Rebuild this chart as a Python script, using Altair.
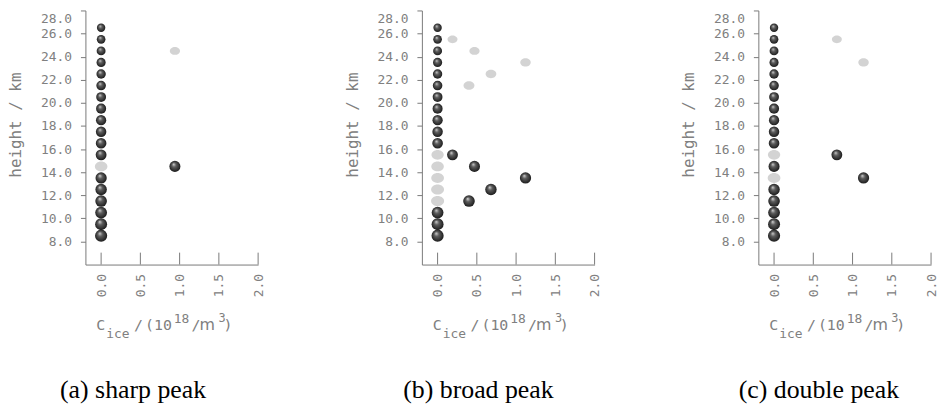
import altair as alt
import pandas as pd

# ---------------- data ----------------
heights = [8.5, 9.5, 10.5, 11.5, 12.5, 13.5, 14.5, 15.5, 16.5, 17.5,
           18.5, 19.5, 20.5, 21.5, 22.5, 23.5, 24.5, 25.5, 26.5]

sharp_dark_c = [0, 0, 0, 0, 0, 0, 0.94, 0, 0, 0, 0, 0, 0, 0, 0, 0, 0, 0, 0]
sharp_gray_h = [14.5, 24.5]
sharp_gray_c = [0.0, 0.94]

broad_dark_c = [0, 0, 0, 0.40, 0.68, 1.12, 0.47, 0.19, 0, 0, 0, 0, 0, 0, 0, 0, 0, 0, 0]
broad_gray_h = [11.5, 12.5, 13.5, 14.5, 15.5, 21.5, 22.5, 23.5, 24.5, 25.5]
broad_gray_c = [0.0, 0.0, 0.0, 0.0, 0.0, 0.40, 0.68, 1.12, 0.47, 0.19]

double_dark_c = [0, 0, 0, 0, 0, 1.14, 0, 0.80, 0, 0, 0, 0, 0, 0, 0, 0, 0, 0, 0]
double_gray_h = [13.5, 15.5, 23.5, 25.5]
double_gray_c = [0.0, 0.0, 1.14, 0.80]

captions = ["(a) sharp peak", "(b) broad peak", "(c) double peak"]
x_ticks = [0.0, 0.5, 1.0, 1.5, 2.0]
y_ticks = [8, 10, 12, 14, 16, 18, 20, 22, 24, 26, 28]

# ---------------- style ----------------
W, H = 174, 256
MONO = "DejaVu Sans Mono"
TXT = "#808080"
AXC = "#7a7a7a"
ELLIPSE = "M -1 0 A 1 0.78 0 1 0 1 0 A 1 0.78 0 1 0 -1 0 Z"
GRAD = alt.RadialGradient(
    gradient="radial",
    stops=[alt.GradientStop(color="#d8d8d8", offset=0),
           alt.GradientStop(color="#5e5e5e", offset=0.35),
           alt.GradientStop(color="#141414", offset=1)],
    x1=0.38, y1=0.3, r1=0, x2=0.5, y2=0.5, r2=0.55)

xs = alt.Scale(domain=[-0.2, 2.0], nice=False, zero=False)
ys = alt.Scale(domain=[6, 28], nice=False, zero=False)
xaxis = alt.Axis(values=x_ticks, format=".1f", labelAngle=270, ticks=False, grid=False,
                 title=None, labelFont=MONO, labelFontSize=13, labelColor=TXT,
                 labelPadding=9, domainColor=AXC)
yaxis = alt.Axis(values=y_ticks, format=".1f", tickSize=5, tickColor=AXC, grid=False,
                 title="height / km", titleFont=MONO, titleFontSize=16, titleColor=TXT,
                 titleFontWeight="normal", titleAngle=270, titleX=-70, titleY=115,
                 titleAlign="center", titleBaseline="middle",
                 labelFont=MONO, labelFontSize=13, labelColor=TXT, labelPadding=9,
                 labelOffset={"condition": {"test": "datum.value >= 28", "value": 8}, "value": 0},
                 domainColor=AXC)
dark_size = alt.Size("h:Q", scale=alt.Scale(domain=[8.5, 26.5], range=[150, 72]), legend=None)
gray_size = alt.Size("h:Q", scale=alt.Scale(domain=[8.5, 26.5], range=[190, 95]), legend=None)

title_pieces = [  # text, x, y(baseline), font size, font
    ("C", 11, 322, 15, MONO),
    ("ice", 21, 330, 13, MONO),
    ("/", 49, 322, 15, MONO),
    ("(10", 60, 322, 15, MONO),
    ("18", 89, 315, 13, MONO),
    ("/", 107, 322, 15, MONO),
    ("m", 115, 322, 16, "DejaVu Sans"),
    ("3", 134, 314, 12, MONO),
    (")", 139, 322, 15, MONO),
]


def text_layer(t, x, y, fs, font, color=TXT, align="left", baseline="alphabetic"):
    return alt.Chart(pd.DataFrame({"t": [t]})).mark_text(
        font=font, fontSize=fs, color=color, align=align, baseline=baseline
    ).encode(x=alt.value(x), y=alt.value(y), text="t:N")


def panel(dark_c, gray_h, gray_c, caption, cap_x):
    dark = pd.DataFrame({"h": heights, "c": dark_c})
    gray = pd.DataFrame({"h": gray_h, "c": gray_c})
    g = alt.Chart(gray).mark_point(shape=ELLIPSE, filled=True, color="#d3d3d3", opacity=1,
                                   strokeWidth=0).encode(
        x=alt.X("c:Q", scale=xs, axis=xaxis), y=alt.Y("h:Q", scale=ys, axis=yaxis),
        size=gray_size)
    d = alt.Chart(dark).mark_circle(fill=GRAD, opacity=1).encode(
        x=alt.X("c:Q", scale=xs, axis=xaxis), y=alt.Y("h:Q", scale=ys, axis=yaxis),
        size=dark_size)
    ticks = alt.Chart(pd.DataFrame({"t": x_ticks})).mark_rule(color=AXC, strokeWidth=1).encode(
        x=alt.X("t:Q", scale=xs, axis=xaxis), y=alt.value(H - 12), y2=alt.value(H))
    texts = [text_layer(*p) for p in title_pieces]
    cap = text_layer(caption, cap_x, 382, 26, "Liberation Serif", color="#000000",
                     align="center", baseline="middle")
    return alt.layer(ticks, g, d, *texts, cap).resolve_scale(size="independent").properties(
        width=W, height=H)


chart = alt.hconcat(
    panel(sharp_dark_c, sharp_gray_h, sharp_gray_c, captions[0], 48),
    panel(broad_dark_c, broad_gray_h, broad_gray_c, captions[1], 57),
    panel(double_dark_c, double_gray_h, double_gray_c, captions[2], 61),
    spacing=165, bounds="flush",
).properties(
    autosize=alt.AutoSizeParams(type="pad"),
    padding={"left": 0, "top": 0, "right": 0, "bottom": 0},
).configure_view(stroke=None)

chart.save("out.html", embed_options={"renderer": "svg", "actions": False})
